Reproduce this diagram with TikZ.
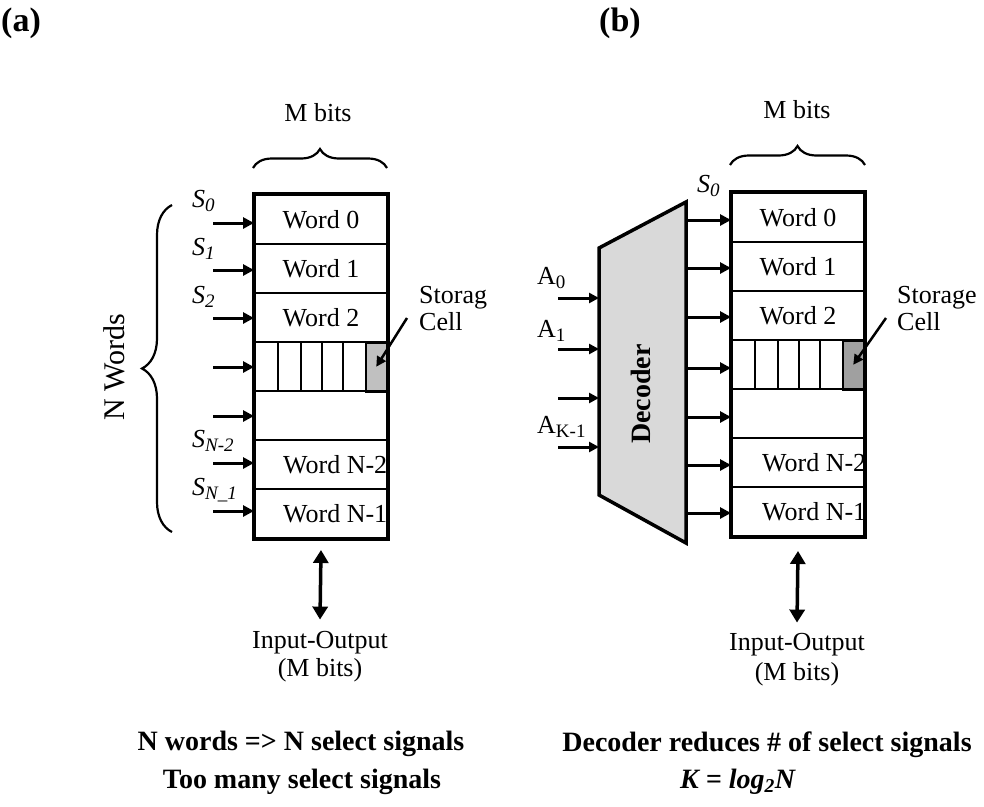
\documentclass[tikz,border=0pt]{standalone}
\usepackage{fontspec}
\setmainfont{Liberation Serif}
\usetikzlibrary{arrows.meta,decorations.pathreplacing,calc}
\definecolor{decgray}{HTML}{D9D9D9}
\definecolor{cellA}{HTML}{C0C0C0}
\definecolor{cellB}{HTML}{A0A0A0}
\newcommand{\subx}[1]{\raisebox{-4pt}{\fontsize{19}{19}\selectfont #1}}
\begin{document}
\begin{tikzpicture}[x=1pt,y=-1pt,
  txt/.style={font=\fontsize{26}{28}\selectfont, inner sep=0pt},
  bigtxt/.style={font=\fontsize{28}{32}\selectfont\bfseries, inner sep=0pt},
  row/.style={draw, line width=2pt, minimum width=132pt, minimum height=49pt, inner sep=0pt, anchor=north west},
  outer/.style={line width=4pt},
  celldiv/.style={line width=2.5pt},
  sel/.style={line width=3pt, -{Triangle[length=11pt,width=11pt]}},
  inp/.style={line width=3pt, -{Triangle[length=10pt,width=10pt]}},
  bi/.style={line width=3.5pt, {Triangle[length=13pt,width=15pt]}-{Triangle[length=13pt,width=15pt]}},
  ptr/.style={line width=2.5pt, -{Triangle[length=10pt,width=10pt]}},
  brc/.style={decorate, decoration={brace, amplitude=#1}, line width=2.2pt},
]
\useasboundingbox (0,0) rectangle (984,806);

% panel labels
\node[font=\fontsize{34}{36}\selectfont\bfseries, inner sep=0pt, anchor=base west] (la) at (1,31) {(a)};
\node[font=\fontsize{34}{36}\selectfont\bfseries, inner sep=0pt, anchor=base west] (lb) at (599,31) {(b)};

% ================= panel (a) =================
\foreach \k in {0,...,6}{
  \node[row] (wa\k) at (254,194+49*\k) {};
}
\node[txt] (ta0) at (wa0.center) {Word 0};
\node[txt] (ta1) at (wa1.center) {Word 1};
\node[txt] (ta2) at (wa2.center) {Word 2};
\node[txt, anchor=west] (ta5) at ([xshift=29pt]wa5.west) {Word N-2};
\node[txt, anchor=west] (ta6) at ([xshift=29pt]wa6.west) {Word N-1};
\foreach \d in {24,47,68,89}{
  \draw[celldiv] ([xshift=\d pt]wa3.north west) -- ([xshift=\d pt]wa3.south west);
}
\node[draw, fill=cellA, line width=2.5pt, minimum width=21pt, minimum height=49pt, inner sep=0pt, anchor=north east] (cella) at (wa3.north east) {};
\draw[outer] (wa0.north west) rectangle (wa6.south east);

\node[txt, anchor=base] (mba) at (318,121) {M bits};
\draw[brc=19pt] (253,168) -- (387,168);

\draw[brc=30pt] (172,532) -- (172,205);
\node[txt, rotate=90, font=\fontsize{30}{32}\selectfont] (nw) at (114,367) {N Words};

\foreach \k/\y in {0/223,1/270,2/318,3/367,4/416,5/463,6/511}{
  \coordinate (sa\k) at (213,\y);
  \draw[sel] (sa\k) -- (sa\k -| wa0.west);
}
\node[txt, anchor=base west] (s0) at (192,207) {\textit{S}\subx{\textit{0}}};
\node[txt, anchor=base west] (s1) at (192,255) {\textit{S}\subx{\textit{1}}};
\node[txt, anchor=base west] (s2) at (192,303) {\textit{S}\subx{\textit{2}}};
\node[txt, anchor=base west] (s5) at (192,447) {\textit{S}\subx{\textit{N-2}}};
\node[txt, anchor=base west] (s6) at (192,495) {\textit{S}\subx{\textit{N\_1}}};

\node[txt, anchor=base west] (sta1) at (419,303) {Storag};
\node[txt, anchor=base west] (sta2) at (419,330) {Cell};
\coordinate (pa) at (407,318);
\draw[ptr] (pa) -- (cella.center);

\node[txt, anchor=base] (ioa1) at (320,648) {Input-Output};
\node[txt, anchor=base] (ioa2) at (320,676) {(M bits)};
\draw[bi] ([yshift=-11pt]wa6.south) -- ([yshift=11pt]ioa1.north);

\node[bigtxt, anchor=base] (ca1) at (301,750) {N words => N select signals};
\node[bigtxt, anchor=base] (ca2) at (302,788) {Too many select signals};

% ================= panel (b) =================
\foreach \k in {0,...,6}{
  \node[row] (wb\k) at (731,192+49*\k) {};
}
\node[txt] (tb0) at (wb0.center) {Word 0};
\node[txt] (tb1) at (wb1.center) {Word 1};
\node[txt] (tb2) at (wb2.center) {Word 2};
\node[txt, anchor=west] (tb5) at ([xshift=31pt]wb5.west) {Word N-2};
\node[txt, anchor=west] (tb6) at ([xshift=31pt]wb6.west) {Word N-1};
\foreach \d in {24,47,68,89}{
  \draw[celldiv] ([xshift=\d pt]wb3.north west) -- ([xshift=\d pt]wb3.south west);
}
\node[draw, fill=cellB, line width=2.5pt, minimum width=21pt, minimum height=49pt, inner sep=0pt, anchor=north east] (cellb) at (wb3.north east) {};
\draw[outer] (wb0.north west) rectangle (wb6.south east);

\node[txt, anchor=base] (mbb) at (797,118) {M bits};
\draw[brc=19pt] (730,165) -- (865,165);

% decoder
\coordinate (dtl) at (599,248);
\coordinate (dbl) at (599,495);
\coordinate (dtr) at (686,202);
\coordinate (dbr) at (686,543);
\draw[line width=3.5pt, fill=decgray, line join=miter] (dtl) -- (dtr) -- (dbr) -- (dbl) -- cycle;
\node[rotate=90, inner sep=0pt, font=\fontsize{28}{30}\selectfont\bfseries] (dec) at (641,394) {Decoder};

\foreach \k/\y in {0/220,1/268,2/317,3/368,4/417,5/465,6/513}{
  \coordinate (so\k) at (686,\y);
  \draw[sel] (so\k) -- (so\k -| wb0.west);
}
\node[txt, anchor=base west] (sb0) at (697,192) {\textit{S}\subx{\textit{0}}};

\foreach \k/\y in {0/298,1/349,2/398,3/447}{
  \coordinate (ai\k) at (558,\y);
  \draw[inp] (ai\k) -- (ai\k -| dtl);
}
\node[txt, anchor=base west] (a0) at (537,284) {A\subx{0}};
\node[txt, anchor=base west] (a1) at (537,337) {A\subx{1}};
\node[txt, anchor=base west] (ak) at (537,433) {A\subx{K-1}};

\node[txt, anchor=base west] (stb1) at (897,303) {Storage};
\node[txt, anchor=base west] (stb2) at (897,330) {Cell};
\coordinate (pb) at (886,318);
\draw[ptr] (pb) -- (cellb.center);

\node[txt, anchor=base] (iob1) at (797,650) {Input-Output};
\node[txt, anchor=base] (iob2) at (797,680) {(M bits)};
\draw[bi] ([yshift=-14pt]wb6.south) -- ([yshift=10pt]iob1.north);

\node[bigtxt, anchor=base] (cb1) at (767,751) {Decoder reduces \# of select signals};
\node[bigtxt, anchor=base] (cb2) at (738,788) {\textit{K = log\textsubscript{2}N}};
\end{tikzpicture}
\end{document}
